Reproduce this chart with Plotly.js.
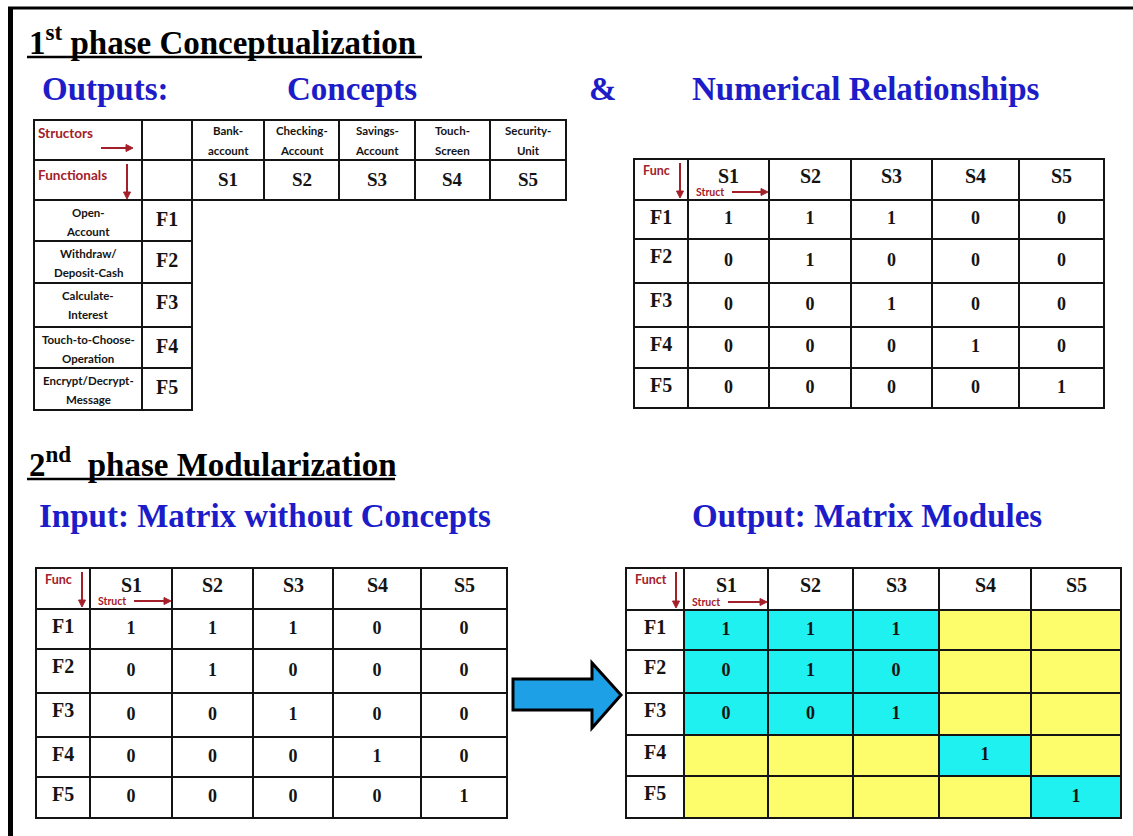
<!DOCTYPE html>
<html>
<head>
<meta charset="utf-8">
<script src="https://cdn.plot.ly/plotly-3.0.1.min.js"></script>
<style>html,body{margin:0;padding:0;background:#fff;}</style>
</head>
<body>
<div id="plot" style="width:1133px;height:836px;"></div>
<script>
// data
var structs = ['S1', 'S2', 'S3', 'S4', 'S5'];
var funcs = ['F1', 'F2', 'F3', 'F4', 'F5'];
var structNames = [['Bank-', 'account'], ['Checking-', 'Account'], ['Savings-', 'Account'], ['Touch-', 'Screen'], ['Security-', 'Unit']];
var funcNames = [['Open-', 'Account'], ['Withdraw/', 'Deposit-Cash'], ['Calculate-', 'Interest'], ['Touch-to-Choose-', 'Operation'], ['Encrypt/Decrypt-', 'Message']];
var dsm = [
  [1, 1, 1, 0, 0],
  [0, 1, 0, 0, 0],
  [0, 0, 1, 0, 0],
  [0, 0, 0, 1, 0],
  [0, 0, 0, 0, 1]
];
var rowModule = [1, 1, 1, 2, 3];
var colModule = [1, 1, 1, 2, 3];

// page geometry (pixels)
var W = 1133, H = 836;
var t1Cols = [34, 142, 192, 264, 339, 415, 490, 566], t1Rows = [120, 160, 200, 241, 283, 327, 368, 410];
var t2Cols = [634, 688, 769, 851, 932, 1019, 1104], t2Rows = [159, 200, 239, 283, 327, 368, 408];
var t3Cols = [36, 90, 172, 253, 333, 421, 507], t3Rows = [568, 609, 649, 693, 737, 777, 818];
var t4Cols = [626, 684, 768, 853, 939, 1031, 1121], t4Rows = [568, 610, 650, 693, 735, 776, 818];

var SERIF = 'Liberation Serif, Times New Roman, serif';
var SANS = 'Lato, Open Sans, sans-serif';
var BLUE = '#1c1cc8', RED = '#a3202a', INK = '#141414';
var CYAN = '#1ff0f0', YELLOW = '#fdfd6c';

var shapes = [];
var annotations = [];

function mid(a, i) { return (a[i] + a[i + 1]) / 2; }

function rect(x0, y0, x1, y1, fill) {
  shapes.push({type: 'rect', xref: 'x', yref: 'y', x0: x0, y0: y0, x1: x1, y1: y1,
    fillcolor: fill || 'rgba(0,0,0,0)', line: {color: INK, width: 2}, layer: 'below'});
}

function txt(x, y, text, size, color, family, xanchor) {
  annotations.push({xref: 'x', yref: 'y', x: x, y: y, text: text, showarrow: false,
    xanchor: xanchor || 'center', yanchor: 'middle',
    font: {size: size, color: color || INK, family: family || SERIF}});
}

// small red arrow: line plus a filled head
function arrowRight(x0, x1, y) {
  shapes.push({type: 'line', xref: 'x', yref: 'y', x0: x0, y0: y, x1: x1 - 6, y1: y, line: {color: RED, width: 2}});
  shapes.push({type: 'path', xref: 'x', yref: 'y', path: 'M' + (x1 - 7) + ',' + (y - 3.5) + ' L' + x1 + ',' + y + ' L' + (x1 - 7) + ',' + (y + 3.5) + ' Z',
    fillcolor: RED, line: {color: RED, width: 1}});
}
function arrowDown(x, y0, y1) {
  shapes.push({type: 'line', xref: 'x', yref: 'y', x0: x, y0: y0, x1: x, y1: y1 - 6, line: {color: RED, width: 2}});
  shapes.push({type: 'path', xref: 'x', yref: 'y', path: 'M' + (x - 3.5) + ',' + (y1 - 7) + ' L' + x + ',' + y1 + ' L' + (x + 3.5) + ',' + (y1 - 7) + ' Z',
    fillcolor: RED, line: {color: RED, width: 1}});
}

// outer frame and title underlines
shapes.push({type: 'line', xref: 'x', yref: 'y', x0: 10.5, y0: 8, x1: 10.5, y1: H, line: {color: '#000', width: 5}});
shapes.push({type: 'line', xref: 'x', yref: 'y', x0: 8, y0: 8, x1: W, y1: 8, line: {color: '#000', width: 3}});
shapes.push({type: 'line', xref: 'x', yref: 'y', x0: 27, y0: 57, x1: 422, y1: 57, line: {color: '#000', width: 2.5}});
shapes.push({type: 'line', xref: 'x', yref: 'y', x0: 27, y0: 479, x1: 395, y1: 479, line: {color: '#000', width: 2.5}});

// headings
txt(27, 40, '<b>1<sup>st</sup> phase Conceptualization</b>', 33, '#000', SERIF, 'left');
txt(27, 462, '<b>2<sup>nd</sup>  phase Modularization</b>', 33, '#000', SERIF, 'left');
txt(40, 89, '<b>Outputs:</b>', 33, BLUE, SERIF, 'left');
txt(352, 89, '<b>Concepts</b>', 33, BLUE, SERIF);
txt(603, 89, '<b>&</b>', 33, BLUE, SERIF);
txt(690, 89, '<b>Numerical Relationships</b>', 33, BLUE, SERIF, 'left');
txt(37, 516, '<b>Input: Matrix without Concepts</b>', 33, BLUE, SERIF, 'left');
txt(690, 516, '<b>Output: Matrix Modules</b>', 33, BLUE, SERIF, 'left');

// table 1: concepts
var i, j;
for (i = 0; i < 2; i++) {
  for (j = 0; j < t1Cols.length - 1; j++) rect(t1Cols[j], t1Rows[i], t1Cols[j + 1], t1Rows[i + 1]);
}
for (i = 2; i < t1Rows.length - 1; i++) {
  for (j = 0; j < 2; j++) rect(t1Cols[j], t1Rows[i], t1Cols[j + 1], t1Rows[i + 1]);
}
txt(36, 133, '<b>Structors</b>', 13.5, RED, SANS, 'left');
arrowRight(101, 133, 148);
txt(36, 175, '<b>Functionals</b>', 13.5, RED, SANS, 'left');
arrowDown(127, 164, 199);
for (j = 0; j < structs.length; j++) {
  txt(mid(t1Cols, j + 2), 130, '<b>' + structNames[j][0] + '</b>', 11.5, INK, SANS);
  txt(mid(t1Cols, j + 2), 150, '<b>' + structNames[j][1] + '</b>', 11.5, INK, SANS);
  txt(mid(t1Cols, j + 2), 179, '<b>' + structs[j] + '</b>', 19, INK, SERIF);
}
for (i = 0; i < funcs.length; i++) {
  var rowTop = t1Rows[i + 2];
  txt(mid(t1Cols, 0), rowTop + 12, '<b>' + funcNames[i][0] + '</b>', 11.5, INK, SANS);
  txt(mid(t1Cols, 0), rowTop + 31, '<b>' + funcNames[i][1] + '</b>', 11.5, INK, SANS);
  txt(mid(t1Cols, 1), rowTop + 19, '<b>' + funcs[i] + '</b>', 20, INK, SERIF);
}

// matrix tables
var valX = [], valY = [], valT = [];
function matrix(cols, rows, corner, colored, showAll) {
  var r, c;
  for (r = 0; r < rows.length - 1; r++) {
    for (c = 0; c < cols.length - 1; c++) {
      var fill = null;
      if (colored && r > 0 && c > 0) {
        fill = rowModule[r - 1] === colModule[c - 1] ? CYAN : YELLOW;
      }
      rect(cols[c], rows[r], cols[c + 1], rows[r + 1], fill);
    }
  }
  txt(cols[0] + 7, rows[0] + 11, '<b>' + corner + '</b>', 12.5, RED, SANS, 'left');
  arrowDown(cols[1] - 8, rows[0] + 4, rows[1] - 2);
  txt(cols[1] + 6, rows[1] - 8, '<b>Struct</b>', 10.5, RED, SANS, 'left');
  arrowRight(cols[1] + 44, cols[2] - 1, rows[1] - 8);
  for (c = 0; c < structs.length; c++) {
    txt(mid(cols, c + 1), rows[0] + 17, '<b>' + structs[c] + '</b>', 20, INK, SERIF);
  }
  for (r = 0; r < funcs.length; r++) {
    txt(mid(cols, 0), rows[r + 1] + 17, '<b>' + funcs[r] + '</b>', 20, INK, SERIF);
    for (c = 0; c < structs.length; c++) {
      if (showAll || rowModule[r] === colModule[c]) {
        valX.push(mid(cols, c + 1));
        valY.push(mid(rows, r + 1));
        valT.push('<b>' + dsm[r][c] + '</b>');
      }
    }
  }
}
matrix(t2Cols, t2Rows, 'Func', false, true);
matrix(t3Cols, t3Rows, 'Func', false, true);
matrix(t4Cols, t4Rows, 'Funct', true, false);

// big blue arrow between the matrices
shapes.push({type: 'path', xref: 'x', yref: 'y',
  path: 'M513,679 L592,679 L592,663 L621,695 L592,728 L592,710 L513,710 Z',
  fillcolor: '#1ea0e6', line: {color: '#000', width: 3}});

var data = [{
  x: valX, y: valY, text: valT, mode: 'text', type: 'scatter',
  textposition: 'middle center', hoverinfo: 'none',
  textfont: {family: SERIF, size: 18, color: INK}
}];

var layout = {
  width: W, height: H,
  margin: {l: 0, r: 0, t: 0, b: 0},
  paper_bgcolor: '#fff', plot_bgcolor: '#fff',
  showlegend: false,
  xaxis: {range: [0, W], visible: false, fixedrange: true},
  yaxis: {range: [H, 0], visible: false, fixedrange: true},
  shapes: shapes,
  annotations: annotations
};

Plotly.newPlot('plot', data, layout, {displayModeBar: false, staticPlot: true});
</script>
</body>
</html>
